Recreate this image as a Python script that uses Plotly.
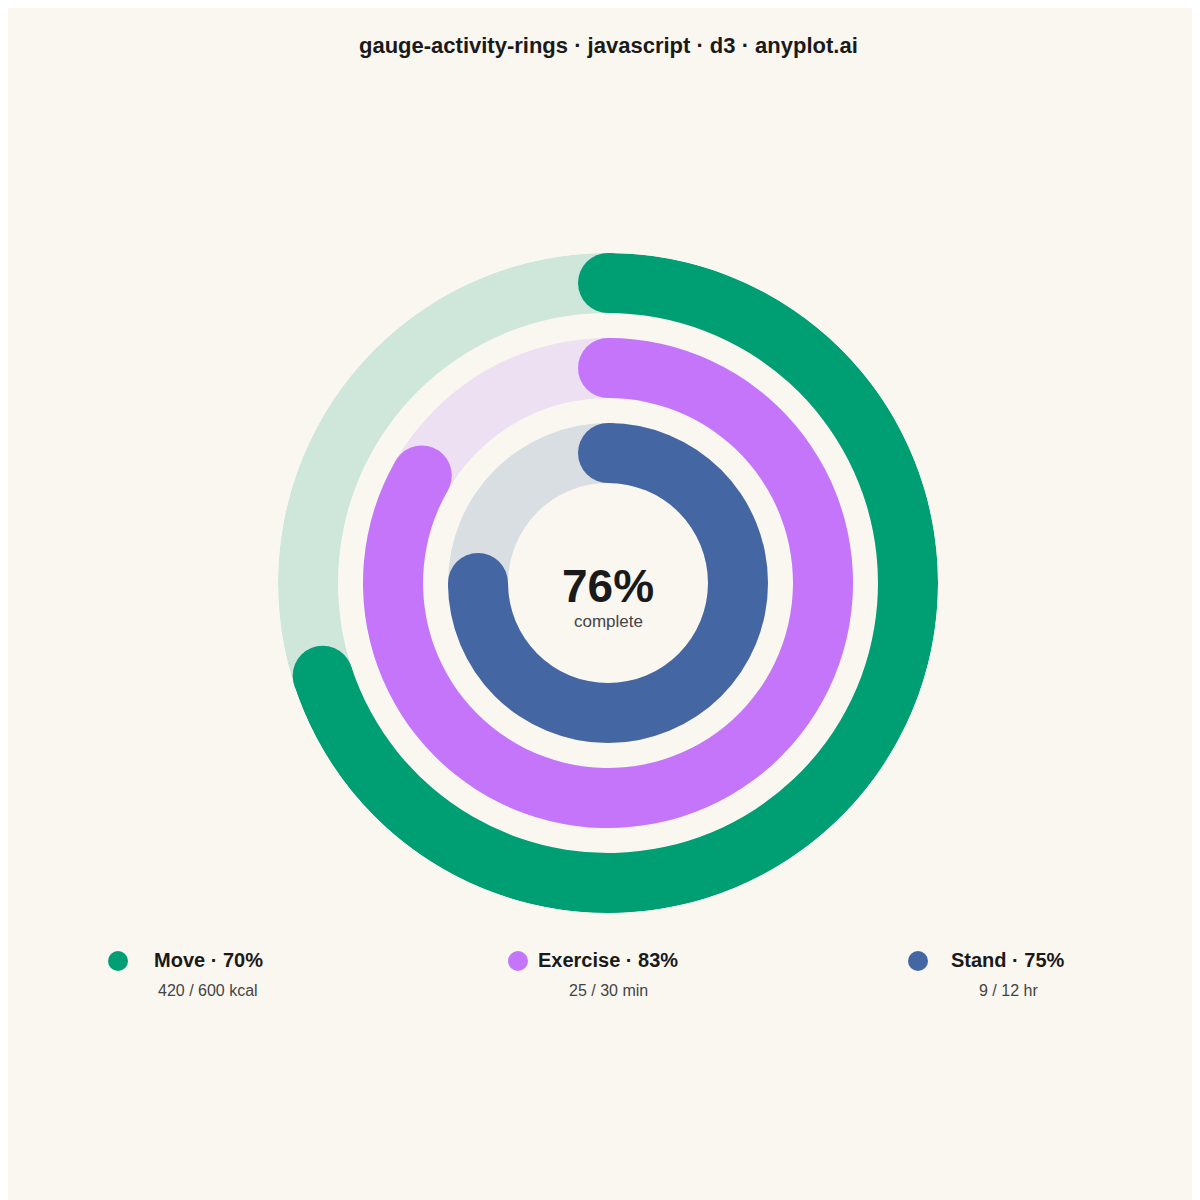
import plotly.graph_objects as go

# Activity ring data
names = ["Move", "Exercise", "Stand"]
current = [420, 25, 9]
goals = [600, 30, 12]
units = ["kcal", "min", "hr"]
colors = ["#009E73", "#C475FA", "#4467A3"]
track_colors = ["#CFE7DA", "#EEE0F3", "#D9DEE2"]
ring_mid = [300, 215, 130]
thickness = 60

BG = "#FAF7F1"
pcts = [c / g * 100 for c, g in zip(current, goals)]
overall = round(sum(pcts) / len(pcts))

fig = go.Figure()

for i, name in enumerate(names):
    base = ring_mid[i] - thickness / 2
    # background track
    fig.add_trace(go.Barpolar(
        r=[thickness], base=[base], theta=[180], width=[360],
        marker=dict(color=track_colors[i], line=dict(width=0)),
        hoverinfo="skip", showlegend=False))
    # progress arc
    arc = pcts[i] / 100 * 360
    fig.add_trace(go.Barpolar(
        r=[thickness], base=[base], theta=[arc / 2], width=[arc],
        marker=dict(color=colors[i], line=dict(width=0)),
        name=name, showlegend=False))
    # rounded caps
    fig.add_trace(go.Scatterpolar(
        r=[ring_mid[i], ring_mid[i]], theta=[0, arc], mode="markers",
        marker=dict(size=thickness, color=colors[i], line=dict(width=0)),
        hoverinfo="skip", showlegend=False))

fig.update_layout(
    width=1200, height=1200,
    paper_bgcolor=BG, plot_bgcolor=BG,
    margin=dict(l=0, r=0, t=0, b=0),
    font=dict(family="Liberation Sans, Arial, sans-serif", color="#1a1a1a"),
    polar=dict(
        domain=dict(x=[270 / 1200, 930 / 1200], y=[295 / 1200, 955 / 1200]),
        bgcolor=BG, hole=0,
        radialaxis=dict(range=[0, 330], visible=False),
        angularaxis=dict(rotation=90, direction="clockwise", visible=False),
    ),
)

ann = [
    dict(x=0.5, y=1 - 37 / 1200, text="<b>gauge-activity-rings · javascript · d3 · anyplot.ai</b>",
         font=dict(size=22)),
    dict(x=0.5, y=1 - 578 / 1200, text="<b>%d%%</b>" % overall, font=dict(size=46)),
    dict(x=0.5, y=1 - 613 / 1200, text="complete", font=dict(size=17, color="#444")),
]
shapes = []
centers = [200, 600, 1000]
for i, name in enumerate(names):
    cx = centers[i]
    dot_x = cx - 90
    shapes.append(dict(type="circle", xref="paper", yref="paper",
                       x0=(dot_x - 10) / 1200, x1=(dot_x + 10) / 1200,
                       y0=1 - 963 / 1200, y1=1 - 943 / 1200,
                       fillcolor=colors[i], line=dict(width=0)))
    ann.append(dict(x=cx / 1200, y=1 - 952 / 1200,
                    text="<b>%s · %d%%</b>" % (name, round(pcts[i])), font=dict(size=20)))
    ann.append(dict(x=cx / 1200, y=1 - 982 / 1200,
                    text="%d / %d %s" % (current[i], goals[i], units[i]),
                    font=dict(size=16, color="#444")))
for a in ann:
    a.update(xref="paper", yref="paper", showarrow=False, xanchor="center", yanchor="middle")

fig.update_layout(annotations=ann, shapes=shapes)
fig.write_html("out.html")
